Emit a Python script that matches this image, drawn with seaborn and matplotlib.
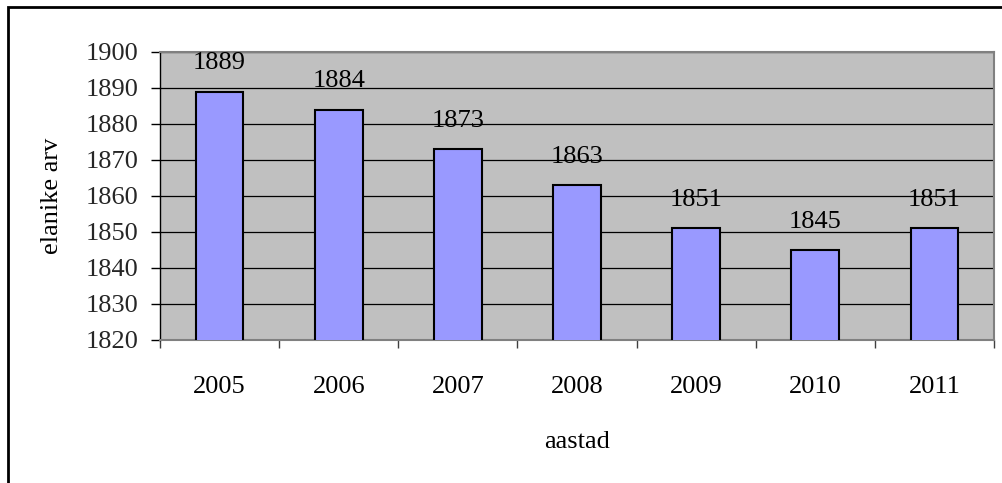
import matplotlib
matplotlib.use("Agg")
import matplotlib.pyplot as plt
from matplotlib.patches import Rectangle
from matplotlib.ticker import FixedLocator
import seaborn as sns
import pandas as pd

# Population by year
years = ["2005", "2006", "2007", "2008", "2009", "2010", "2011"]
residents = [1889, 1884, 1873, 1863, 1851, 1845, 1851]
y_ticks = [1820, 1830, 1840, 1850, 1860, 1870, 1880, 1890, 1900]

df = pd.DataFrame({"aastad": years, "elanike arv": residents})

sns.set_theme(style="white")
plt.rcParams["font.family"] = ["Liberation Serif", "DejaVu Serif"]

FS = 19

fig = plt.figure(figsize=(10.03, 4.83), dpi=100)
ax = fig.add_axes([160 / 1003, 1 - 340 / 483, (994 - 160) / 1003, (340 - 52) / 483])
ax.set_facecolor("#C0C0C0")

sns.barplot(data=df, x="aastad", y="elanike arv", color="#9999FF",
            saturation=1, width=0.4, edgecolor="black", linewidth=1.5,
            ax=ax, zorder=3)

ax.set_ylim(y_ticks[0], y_ticks[-1])
ax.set_xlim(-0.5, len(years) - 0.5)
ax.set_yticks(y_ticks)
ax.yaxis.grid(True, color="black", linewidth=0.9, zorder=1)
ax.set_axisbelow(True)

# Value labels above the bars
for i, v in enumerate(residents):
    ax.annotate(str(v), xy=(i, v), xytext=(0, 20.5), textcoords="offset points",
                ha="center", va="center", fontsize=FS, color="black", zorder=5)

# Category ticks between bars
ax.xaxis.set_minor_locator(FixedLocator([k - 0.5 for k in range(len(years) + 1)]))
ax.tick_params(axis="x", which="major", length=0, pad=26, labelsize=FS, colors="black")
ax.tick_params(axis="x", which="minor", length=6, width=1.0, color="#404040", direction="out", bottom=True)
ax.tick_params(axis="y", which="major", length=6.5, width=1.0, color="black", pad=9,
               labelsize=FS, direction="out", left=True)

for side in ["top", "right", "bottom"]:
    ax.spines[side].set_color("#808080")
    ax.spines[side].set_linewidth(1.5)
ax.spines["left"].set_color("black")
ax.spines["left"].set_linewidth(1.0)

ax.set_xlabel("aastad", fontsize=FS, color="black", labelpad=24)
ax.set_ylabel("elanike arv", fontsize=FS, color="black", labelpad=16)

# Outer chart frame
fig.patches.append(Rectangle((8 / 1003, -0.05), 1.2, 1 - 7 / 483 + 0.05,
                             transform=fig.transFigure, fill=False,
                             edgecolor="black", linewidth=2))

fig.savefig("out.png", dpi=100, facecolor="white")
